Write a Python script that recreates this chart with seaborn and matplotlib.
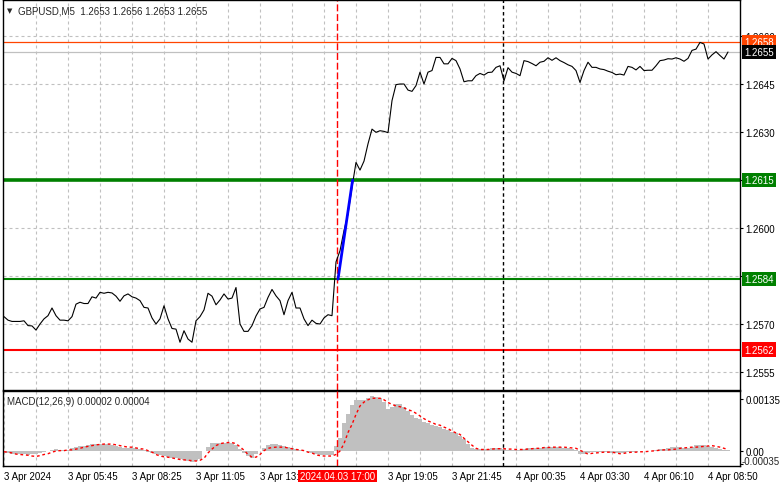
import numpy as np
import matplotlib
matplotlib.use("Agg")
import matplotlib.pyplot as plt
import seaborn as sns

# GBPUSD M5 closes, every second bar
close = [
    1.25723, 1.25712, 1.25708, 1.25708, 1.25708, 1.25710, 1.25695, 1.25694, 1.25681, 1.25700,
    1.25716, 1.25726, 1.25750, 1.25726, 1.25712, 1.25712, 1.25710, 1.25723, 1.25762, 1.25768,
    1.25764, 1.25764, 1.25785, 1.25781, 1.25799, 1.25796, 1.25799, 1.25797, 1.25787, 1.25771,
    1.25788, 1.25794, 1.25785, 1.25781, 1.25773, 1.25752, 1.25750, 1.25719, 1.25700, 1.25716,
    1.25757, 1.25716, 1.25686, 1.25684, 1.25643, 1.25679, 1.25653, 1.25643, 1.25710, 1.25723,
    1.25744, 1.25796, 1.25787, 1.25760, 1.25775, 1.25794, 1.25778, 1.25781, 1.25814, 1.25700,
    1.25677, 1.25677, 1.25695, 1.25725, 1.25747, 1.25752, 1.25783, 1.25808, 1.25788, 1.25773,
    1.25729, 1.25773, 1.25799, 1.25750, 1.25750, 1.25716, 1.25695, 1.25712, 1.25702, 1.25700,
    1.25719, 1.25729, 1.25726, 1.25894, 1.25929, 1.25992, 1.26044, 1.26127, 1.26205, 1.26181,
    1.26209, 1.26263, 1.26309, 1.26299, 1.26304, 1.26302, 1.26298, 1.26398, 1.26448, 1.26450,
    1.26450, 1.26431, 1.26427, 1.26445, 1.26487, 1.26450, 1.26487, 1.26492, 1.26533, 1.26533,
    1.26513, 1.26513, 1.26530, 1.26523, 1.26497, 1.26457, 1.26460, 1.26460, 1.26476, 1.26483,
    1.26478, 1.26486, 1.26487, 1.26502, 1.26507, 1.26460, 1.26501, 1.26487, 1.26483, 1.26476,
    1.26523, 1.26520, 1.26514, 1.26507, 1.26518, 1.26521, 1.26532, 1.26524, 1.26532, 1.26523,
    1.26517, 1.26510, 1.26505, 1.26492, 1.26455, 1.26492, 1.26518, 1.26502, 1.26502, 1.26497,
    1.26495, 1.26490, 1.26486, 1.26479, 1.26481, 1.26478, 1.26505, 1.26502, 1.26494, 1.26505,
    1.26492, 1.26493, 1.26493, 1.26507, 1.26523, 1.26525, 1.26529, 1.26528, 1.26532, 1.26528,
    1.26521, 1.26530, 1.26555, 1.26559, 1.26580, 1.26575, 1.26528, 1.26541, 1.26551, 1.26539,
    1.26528, 1.26550,
]

# MACD(12,26,9): main (histogram) and signal, same bars
macd_main = [
    -0.00004, -0.00005, -0.00007, -0.00008, -0.00009, -0.00009, -0.00010, -0.00009, -0.00007, -0.00004,
    -0.00002, 0.00000, 0.00003, 0.00005, 0.00002, 0.00002, 0.00003, 0.00007, 0.00010, 0.00012,
    0.00014, 0.00016, 0.00018, 0.00019, 0.00019, 0.00019, 0.00018, 0.00016, 0.00014, 0.00010,
    0.00009, 0.00009, 0.00008, 0.00007, 0.00005, 0.00003, -0.00002, -0.00005, -0.00009, -0.00011,
    -0.00013, -0.00015, -0.00017, -0.00019, -0.00022, -0.00023, -0.00026, -0.00029, -0.00026, -0.00021,
    0.00001, 0.00010, 0.00020, 0.00022, 0.00022, 0.00022, 0.00022, 0.00021, 0.00016, 0.00005,
    -0.00005, -0.00014, -0.00017, -0.00008, 0.00001, 0.00007, 0.00016, 0.00018, 0.00018, 0.00016,
    0.00014, 0.00011, 0.00009, 0.00006, 0.00003, 0.00000, -0.00003, -0.00006, -0.00008, -0.00010,
    -0.00010, -0.00010, -0.00010, 0.00013, 0.00035, 0.00074, 0.00097, 0.00119, 0.00132, 0.00132,
    0.00132, 0.00138, 0.00142, 0.00141, 0.00137, 0.00128, 0.00108, 0.00115, 0.00121, 0.00121,
    0.00115, 0.00104, 0.00093, 0.00087, 0.00082, 0.00076, 0.00072, 0.00068, 0.00065, 0.00062,
    0.00058, 0.00055, 0.00049, 0.00046, 0.00039, 0.00030, 0.00019, 0.00007, 0.00004, 0.00004,
    0.00004, 0.00005, 0.00007, 0.00009, 0.00007, 0.00004, 0.00003, 0.00002, 0.00002, 0.00002,
    0.00005, 0.00007, 0.00007, 0.00007, 0.00008, 0.00010, 0.00010, 0.00010, 0.00010, 0.00010,
    0.00009, 0.00007, 0.00005, 0.00003, -0.00008, -0.00009, -0.00005, -0.00003, -0.00003, -0.00003,
    -0.00003, -0.00003, -0.00004, -0.00005, -0.00005, -0.00004, -0.00002, -0.00002, -0.00002, -0.00001,
    0.00001, 0.00001, 0.00001, 0.00003, 0.00005, 0.00005, 0.00008, 0.00010, 0.00010, 0.00010,
    0.00008, 0.00008, 0.00011, 0.00016, 0.00016, 0.00016, 0.00014, 0.00010, 0.00008, 0.00004,
    0.00003, 0.00002,
]
macd_signal = [
    -0.00002, -0.00003, -0.00005, -0.00008, -0.00009, -0.00010, -0.00011, -0.00013, -0.00014, -0.00012,
    -0.00009, -0.00007, -0.00003, 0.00000, 0.00001, 0.00001, 0.00003, 0.00003, 0.00005, 0.00007,
    0.00010, 0.00012, 0.00014, 0.00016, 0.00017, 0.00018, 0.00018, 0.00018, 0.00016, 0.00014,
    0.00012, 0.00010, 0.00010, 0.00008, 0.00006, 0.00005, 0.00001, -0.00003, -0.00009, -0.00013,
    -0.00015, -0.00016, -0.00018, -0.00020, -0.00022, -0.00023, -0.00024, -0.00025, -0.00026, -0.00024,
    -0.00019, -0.00005, 0.00005, 0.00014, 0.00019, 0.00021, 0.00022, 0.00022, 0.00019, 0.00011,
    0.00002, -0.00009, -0.00016, -0.00016, -0.00009, 0.00001, 0.00007, 0.00009, 0.00010, 0.00010,
    0.00010, 0.00008, 0.00006, 0.00004, 0.00003, 0.00001, -0.00003, -0.00005, -0.00010, -0.00012,
    -0.00013, -0.00013, -0.00013, -0.00009, 0.00000, 0.00019, 0.00048, 0.00069, 0.00095, 0.00117,
    0.00127, 0.00133, 0.00137, 0.00137, 0.00137, 0.00133, 0.00126, 0.00121, 0.00117, 0.00115,
    0.00112, 0.00107, 0.00104, 0.00098, 0.00091, 0.00084, 0.00078, 0.00074, 0.00069, 0.00067,
    0.00062, 0.00058, 0.00052, 0.00047, 0.00043, 0.00033, 0.00024, 0.00015, 0.00007, 0.00004,
    0.00004, 0.00004, 0.00005, 0.00006, 0.00006, 0.00006, 0.00005, 0.00005, 0.00004, 0.00004,
    0.00004, 0.00005, 0.00006, 0.00007, 0.00007, 0.00009, 0.00009, 0.00010, 0.00010, 0.00010,
    0.00010, 0.00009, 0.00008, 0.00007, 0.00002, -0.00003, -0.00008, -0.00006, -0.00005, -0.00004,
    -0.00003, -0.00003, -0.00003, -0.00005, -0.00007, -0.00006, -0.00004, -0.00003, -0.00003, -0.00002,
    -0.00002, -0.00001, 0.00000, 0.00001, 0.00002, 0.00003, 0.00003, 0.00004, 0.00005, 0.00007,
    0.00008, 0.00009, 0.00010, 0.00010, 0.00011, 0.00012, 0.00013, 0.00014, 0.00012, 0.00010,
    0.00007, 0.00004,
]

time_labels = ["3 Apr 2024", "3 Apr 05:45", "3 Apr 08:25", "3 Apr 11:05", "3 Apr 13:45",
               "3 Apr 16:25", "3 Apr 19:05", "3 Apr 21:45", "4 Apr 00:35", "4 Apr 03:30",
               "4 Apr 06:10", "4 Apr 08:50"]

level_prices = [1.2658, 1.2655, 1.2615, 1.2584, 1.2562]
level_colors = ["#FF4500", "#C0C0C0", "#008000", "#008000", "#FF0000"]
level_widths = [0.9, 0.9, 2.6, 1.5, 1.5]
box_prices = [1.2658, 1.2655, 1.2615, 1.2584, 1.2562]
box_colors = ["#FF4500", "#000000", "#008000", "#008000", "#FF0000"]

trend_bars = [167, 174.3]
trend_prices = [1.2584, 1.2615]
event_bar = 166.7      # 2024.04.03 17:00
midnight_bar = 249.5

bar = np.arange(len(close)) * 2

sns.set_style("white")
plt.rcParams["font.family"] = ["Liberation Sans", "DejaVu Sans"]
plt.rcParams["font.size"] = 7

W, H = 781, 489
fig = plt.figure(figsize=(W / 100, H / 100), dpi=100)
ax = fig.add_axes([3 / W, 1 - 391 / H, 737 / W, 390 / H])
ax2 = fig.add_axes([3 / W, 1 - 467 / H, 737 / W, 75 / H])

grid_kw = dict(color="#C0C0C0", linestyle=(0, (2.7, 2.7)), linewidth=0.8)

# ---- price window
ax.set_xlim(-0.5, 368)
ax.set_ylim(1.2549375, 1.267125)
ax.set_yticks(np.arange(1.2555, 1.26601, 0.0015))
ax.set_yticklabels([f"{v:.4f}" for v in np.arange(1.2555, 1.26601, 0.0015)])
ax.set_xticks(np.arange(16, 368, 16))
ax.grid(True, **grid_kw)
ax.yaxis.tick_right()
ax.tick_params(axis="y", direction="out", length=2.2, pad=1.5, labelsize=7, colors="black")
ax.tick_params(axis="x", length=0, labelbottom=False)

for p, c, w in zip(level_prices, level_colors, level_widths):
    ax.axhline(p, color=c, linewidth=w, zorder=2)

ax.axvline(event_bar, color="red", linestyle=(0, (5, 2)), linewidth=1, zorder=2)
ax.axvline(midnight_bar, color="black", linestyle=(0, (2.5, 2)), linewidth=1, zorder=2)

sns.lineplot(x=bar, y=close, ax=ax, color="black", linewidth=0.8, zorder=3)
sns.lineplot(x=trend_bars, y=trend_prices, ax=ax, color="blue", linewidth=2, zorder=4)
ax.set_xlabel("")
ax.set_ylabel("")

for p, c in zip(box_prices, box_colors):
    ax.text(1 + 4 / 737, p, f"{p:.4f}", transform=ax.get_yaxis_transform(),
            ha="left", va="center", fontsize=7, color="white", clip_on=False, zorder=6,
            bbox=dict(boxstyle="square,pad=0.22", fc=c, ec="none"))

# ---- MACD window
ax2.set_xlim(-0.5, 368)
ax2.set_ylim(-0.000389, 0.001558)
ax2.bar(bar, macd_main, width=2, color="#C0C0C0", linewidth=0, zorder=2)
sns.lineplot(x=bar, y=macd_signal, ax=ax2, color="red", linewidth=1,
             linestyle=(0, (2, 2)), zorder=3)
ax2.set_xlabel("")
ax2.set_ylabel("")
ax2.axvline(event_bar, color="red", linestyle=(0, (5, 2)), linewidth=1, zorder=4)
ax2.axvline(midnight_bar, color="black", linestyle=(0, (2.5, 2)), linewidth=1, zorder=4)

xt = np.arange(0, 368, 16)
ax2.set_xticks(xt)
ax2.set_xticklabels([time_labels[i // 2] if i % 2 == 0 else "" for i in range(len(xt))],
                    ha="left")
ax2.grid(True, axis="x", **grid_kw)
ax2.tick_params(axis="x", direction="out", length=2.2, pad=1.5, labelsize=7, colors="black")
ax2.yaxis.tick_right()
ax2.set_yticks([-0.00035, 0.0, 0.00135])
ax2.set_yticklabels(["", "0.00", "0.00135"])
ax2.tick_params(axis="y", direction="out", length=2.2, pad=1.5, labelsize=7, colors="black")
# bottom label sits a little above its tick so it stays inside the window
fig.text(742 / W, 1 - 462 / H, "-0.00035", fontsize=7, va="center", ha="left")

for a in (ax, ax2):
    for s in a.spines.values():
        s.set_visible(True)
        s.set_color("black")
        s.set_linewidth(1)

# ---- texts
fig.text(7 / W, 1 - 11 / H, "\u25bc", fontsize=5, va="center", family=["DejaVu Sans"])
fig.text(18 / W, 1 - 11 / H, "GBPUSD,M5  1.2653 1.2656 1.2653 1.2655", fontsize=7, va="center")
fig.text(7 / W, 1 - 402 / H, "MACD(12,26,9) 0.00002 0.00004", fontsize=7, va="center")
fig.text(337.5 / W, 1 - 477 / H, "2024.04.03 17:00", ha="center", va="center", fontsize=7,
         color="white", zorder=10, bbox=dict(boxstyle="square,pad=0.15", fc="red", ec="none"))

fig.savefig("out.png", dpi=100)
